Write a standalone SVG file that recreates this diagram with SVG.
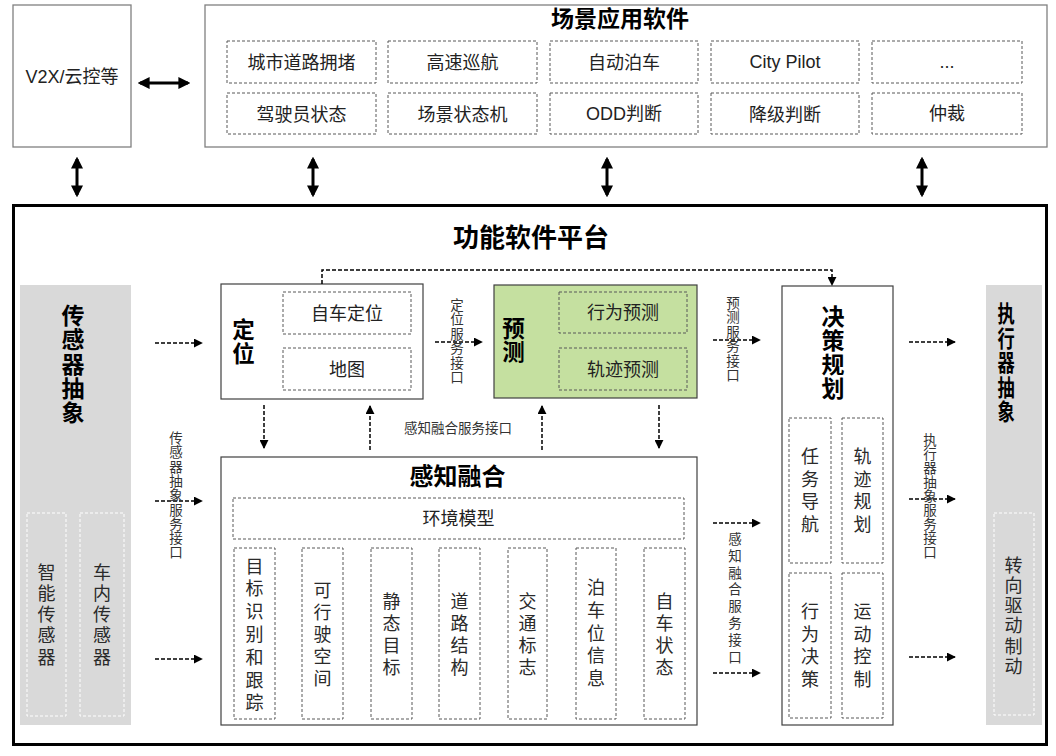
<svg xmlns="http://www.w3.org/2000/svg" width="1056" height="756" viewBox="0 0 1056 756">
<style>
text{font-family:"Liberation Sans","Noto Sans CJK SC",sans-serif;fill:#222}
.t{font-size:18px;text-anchor:middle}
.v{font-size:18px;text-anchor:middle;fill:#2a2a2a}
.s{font-size:13.5px;text-anchor:middle;fill:#333}
.b{font-weight:bold;text-anchor:middle;fill:#000}
.box{fill:#fff;stroke:#404040;stroke-width:1.2}
.outer{fill:#fff;stroke:#808080;stroke-width:1.3}
.cell{fill:none;stroke:#595959;stroke-width:1;stroke-dasharray:3 2}
.wcell{fill:none;stroke:#fff;stroke-width:1;stroke-dasharray:3 2}
.panel{fill:#d9d9d9}
.da{fill:none;stroke:#000;stroke-width:1.5;stroke-dasharray:4 2;marker-end:url(#ah)}
.dbl{fill:none;stroke:#000;stroke-width:3;marker-start:url(#bh);marker-end:url(#bh)}
</style>
<defs>
<marker id="ah" viewBox="0 0 10 10" refX="9" refY="5" markerWidth="6" markerHeight="6" orient="auto" markerUnits="strokeWidth"><path d="M0,0 L10,5 L0,10 z" fill="#000"/></marker>
<marker id="bh" viewBox="0 0 10 10" refX="8" refY="5" markerWidth="4" markerHeight="4" orient="auto-start-reverse" markerUnits="strokeWidth"><path d="M0,0 L10,5 L0,10 z" fill="#000"/></marker>
</defs>

<g id="v2x">
<rect class="outer" x="13" y="5" width="118" height="142"/>
<text class="t" x="72" y="83" font-size="17">V2X/云控等</text>
</g>

<g id="scene">
<rect class="outer" x="205" y="5" width="842" height="142"/>
<text class="b" x="620" y="27" font-size="23">场景应用软件</text>
<rect class="cell" x="227" y="41" width="149" height="42"/><text class="t" x="301.5" y="68.5">城市道路拥堵</text>
<rect class="cell" x="388" y="41" width="149" height="42"/><text class="t" x="462.5" y="68.5">高速巡航</text>
<rect class="cell" x="550" y="41" width="148" height="42"/><text class="t" x="624" y="68.5">自动泊车</text>
<rect class="cell" x="711" y="41" width="148" height="42"/><text class="t" x="785" y="68">City Pilot</text>
<rect class="cell" x="872" y="41" width="150" height="42"/><text class="t" x="947" y="68">...</text>
<rect class="cell" x="227" y="93" width="149" height="41"/><text class="t" x="301.5" y="120.5">驾驶员状态</text>
<rect class="cell" x="388" y="93" width="149" height="41"/><text class="t" x="462.5" y="120.5">场景状态机</text>
<rect class="cell" x="550" y="93" width="148" height="41"/><text class="t" x="624" y="119.5">ODD判断</text>
<rect class="cell" x="711" y="93" width="148" height="41"/><text class="t" x="785" y="120.5">降级判断</text>
<rect class="cell" x="872" y="93" width="150" height="41"/><text class="t" x="947" y="119.5">仲裁</text>
</g>

<g id="platform">
<rect x="13.5" y="205.5" width="1033" height="539" fill="#fff" stroke="#000" stroke-width="3"/>
<text class="b" x="531" y="246.5" font-size="26">功能软件平台</text>
</g>

<g id="sensor">
<rect class="panel" x="20" y="285" width="111" height="440"/>
<text class="b" font-size="23"><tspan x="73" y="324">传</tspan><tspan x="73" dy="24.3">感</tspan><tspan x="73" dy="24.3">器</tspan><tspan x="73" dy="24.3">抽</tspan><tspan x="73" dy="24.3">象</tspan></text>
<rect class="wcell" x="27" y="513" width="39" height="203"/>
<rect class="wcell" x="80" y="513" width="44" height="203"/>
<text class="v"><tspan x="46.5" y="578.5">智</tspan><tspan x="46.5" dy="21.3">能</tspan><tspan x="46.5" dy="21.3">传</tspan><tspan x="46.5" dy="21.3">感</tspan><tspan x="46.5" dy="21.3">器</tspan></text>
<text class="v"><tspan x="102" y="578.5">车</tspan><tspan x="102" dy="21.3">内</tspan><tspan x="102" dy="21.3">传</tspan><tspan x="102" dy="21.3">感</tspan><tspan x="102" dy="21.3">器</tspan></text>
</g>

<g id="actuator">
<rect class="panel" x="986" y="285" width="56" height="440"/>
<g transform="translate(1006,0) scale(0.75,1)">
<text class="b" font-size="23"><tspan x="0" y="322.5">执</tspan><tspan x="0" dy="24.5">行</tspan><tspan x="0" dy="24.5">器</tspan><tspan x="0" dy="24.5">抽</tspan><tspan x="0" dy="24.5">象</tspan></text>
</g>
<rect class="wcell" x="994" y="513" width="40" height="202"/>
<text class="v"><tspan x="1013.5" y="571.5">转</tspan><tspan x="1013.5" dy="20.3">向</tspan><tspan x="1013.5" dy="20.3">驱</tspan><tspan x="1013.5" dy="20.3">动</tspan><tspan x="1013.5" dy="20.3">制</tspan><tspan x="1013.5" dy="20.3">动</tspan></text>
</g>

<g id="loc">
<rect class="box" x="221" y="284" width="202" height="115"/>
<text class="b" font-size="22.5"><tspan x="243.5" y="338">定</tspan><tspan x="243.5" dy="23.5">位</tspan></text>
<rect class="cell" x="283" y="292" width="128" height="42"/><text class="t" x="347" y="319.5">自车定位</text>
<rect class="cell" x="283" y="348" width="128" height="42"/><text class="t" x="347" y="375.5">地图</text>
</g>

<g id="pred">
<rect x="494" y="285" width="203" height="113" fill="#c5e0a0" stroke="#404040" stroke-width="1.2"/>
<text class="b" font-size="22.5"><tspan x="513.5" y="337">预</tspan><tspan x="513.5" dy="23">测</tspan></text>
<rect class="cell" x="559" y="292" width="128" height="41"/><text class="t" x="623" y="319">行为预测</text>
<rect class="cell" x="559" y="348" width="128" height="42"/><text class="t" x="623" y="375.5">轨迹预测</text>
</g>

<g id="plan">
<rect class="box" x="782" y="286" width="111" height="439"/>
<text class="b" font-size="23"><tspan x="833" y="325">决</tspan><tspan x="833" dy="24">策</tspan><tspan x="833" dy="24">规</tspan><tspan x="833" dy="24">划</tspan></text>
<rect class="cell" x="789" y="418" width="42" height="145"/>
<rect class="cell" x="842" y="418" width="41" height="145"/>
<rect class="cell" x="789" y="573" width="42" height="145"/>
<rect class="cell" x="842" y="573" width="41" height="145"/>
<text class="v"><tspan x="810" y="463">任</tspan><tspan x="810" dy="22.7">务</tspan><tspan x="810" dy="22.7">导</tspan><tspan x="810" dy="22.7">航</tspan></text>
<text class="v"><tspan x="862.5" y="463">轨</tspan><tspan x="862.5" dy="22.7">迹</tspan><tspan x="862.5" dy="22.7">规</tspan><tspan x="862.5" dy="22.7">划</tspan></text>
<text class="v"><tspan x="810" y="618">行</tspan><tspan x="810" dy="22.7">为</tspan><tspan x="810" dy="22.7">决</tspan><tspan x="810" dy="22.7">策</tspan></text>
<text class="v"><tspan x="862.5" y="618">运</tspan><tspan x="862.5" dy="22.7">动</tspan><tspan x="862.5" dy="22.7">控</tspan><tspan x="862.5" dy="22.7">制</tspan></text>
</g>

<g id="fusion">
<rect class="box" x="221" y="457" width="476" height="268"/>
<text class="b" x="457.5" y="484.5" font-size="24">感知融合</text>
<rect class="cell" x="233" y="498" width="451" height="41"/><text class="t" x="458.5" y="525">环境模型</text>
<rect class="cell" x="234" y="548" width="41" height="171"/>
<rect class="cell" x="302" y="548" width="41" height="171"/>
<rect class="cell" x="371" y="548" width="41" height="171"/>
<rect class="cell" x="439" y="548" width="41" height="171"/>
<rect class="cell" x="508" y="548" width="39" height="171"/>
<rect class="cell" x="576" y="548" width="40" height="171"/>
<rect class="cell" x="644" y="548" width="41" height="171"/>
<text class="v"><tspan x="254.5" y="572.5">目</tspan><tspan x="254.5" dy="22.8">标</tspan><tspan x="254.5" dy="22.8">识</tspan><tspan x="254.5" dy="22.8">别</tspan><tspan x="254.5" dy="22.8">和</tspan><tspan x="254.5" dy="22.8">跟</tspan><tspan x="254.5" dy="22.8">踪</tspan></text>
<text class="v"><tspan x="322.5" y="596.5">可</tspan><tspan x="322.5" dy="22">行</tspan><tspan x="322.5" dy="22">驶</tspan><tspan x="322.5" dy="22">空</tspan><tspan x="322.5" dy="22">间</tspan></text>
<text class="v"><tspan x="391.5" y="607.5">静</tspan><tspan x="391.5" dy="22.2">态</tspan><tspan x="391.5" dy="22.2">目</tspan><tspan x="391.5" dy="22.2">标</tspan></text>
<text class="v"><tspan x="459.5" y="607.5">道</tspan><tspan x="459.5" dy="22.2">路</tspan><tspan x="459.5" dy="22.2">结</tspan><tspan x="459.5" dy="22.2">构</tspan></text>
<text class="v"><tspan x="527.5" y="607.5">交</tspan><tspan x="527.5" dy="22.2">通</tspan><tspan x="527.5" dy="22.2">标</tspan><tspan x="527.5" dy="22.2">志</tspan></text>
<text class="v"><tspan x="596" y="594">泊</tspan><tspan x="596" dy="22.8">车</tspan><tspan x="596" dy="22.8">位</tspan><tspan x="596" dy="22.8">信</tspan><tspan x="596" dy="22.8">息</tspan></text>
<text class="v"><tspan x="664.5" y="607.5">自</tspan><tspan x="664.5" dy="22.2">车</tspan><tspan x="664.5" dy="22.2">状</tspan><tspan x="664.5" dy="22.2">态</tspan></text>
</g>

<g id="connectors">
<path class="dbl" d="M140,83 H188"/>
<path class="dbl" d="M77,159 V195"/>
<path class="dbl" d="M313,159 V195"/>
<path class="dbl" d="M607,159 V195"/>
<path class="dbl" d="M922,159 V195"/>

<path class="da" d="M155,343 H202"/>
<path class="da" d="M155,501 H202"/>
<path class="da" d="M155,659 H202"/>
<path class="da" d="M435,342 H482"/>
<path class="da" d="M713,340 H760"/>
<path class="da" d="M713,523 H760"/>
<path class="da" d="M713,673 H760"/>
<path class="da" d="M909,342 H955"/>
<path class="da" d="M909,499 H955"/>
<path class="da" d="M909,657 H955"/>
<path class="da" d="M264,405 V448"/>
<path class="da" d="M370,450 V406"/>
<path class="da" d="M542,450 V406"/>
<path class="da" d="M659,405 V448"/>
<path class="da" d="M322,284 V270 H832 V285"/>

<text class="s"><tspan x="176" y="443">传</tspan><tspan x="176" dy="14.3">感</tspan><tspan x="176" dy="14.3">器</tspan><tspan x="176" dy="14.3">抽</tspan><tspan x="176" dy="14.3">象</tspan><tspan x="176" dy="14.3">服</tspan><tspan x="176" dy="14.3">务</tspan><tspan x="176" dy="14.3">接</tspan><tspan x="176" dy="14.3">口</tspan></text>
<text class="s"><tspan x="457" y="310">定</tspan><tspan x="457" dy="14.4">位</tspan><tspan x="457" dy="14.4">服</tspan><tspan x="457" dy="14.4">务</tspan><tspan x="457" dy="14.4">接</tspan><tspan x="457" dy="14.4">口</tspan></text>
<text class="s"><tspan x="733" y="308">预</tspan><tspan x="733" dy="14.4">测</tspan><tspan x="733" dy="14.4">服</tspan><tspan x="733" dy="14.4">务</tspan><tspan x="733" dy="14.4">接</tspan><tspan x="733" dy="14.4">口</tspan></text>
<text class="s"><tspan x="735" y="544">感</tspan><tspan x="735" dy="16.8">知</tspan><tspan x="735" dy="16.8">融</tspan><tspan x="735" dy="16.8">合</tspan><tspan x="735" dy="16.8">服</tspan><tspan x="735" dy="16.8">务</tspan><tspan x="735" dy="16.8">接</tspan><tspan x="735" dy="16.8">口</tspan></text>
<text class="s"><tspan x="930" y="445">执</tspan><tspan x="930" dy="14">行</tspan><tspan x="930" dy="14">器</tspan><tspan x="930" dy="14">抽</tspan><tspan x="930" dy="14">象</tspan><tspan x="930" dy="14">服</tspan><tspan x="930" dy="14">务</tspan><tspan x="930" dy="14">接</tspan><tspan x="930" dy="14">口</tspan></text>
<text class="s" x="458" y="433" font-size="14">感知融合服务接口</text>
</g>
</svg>
